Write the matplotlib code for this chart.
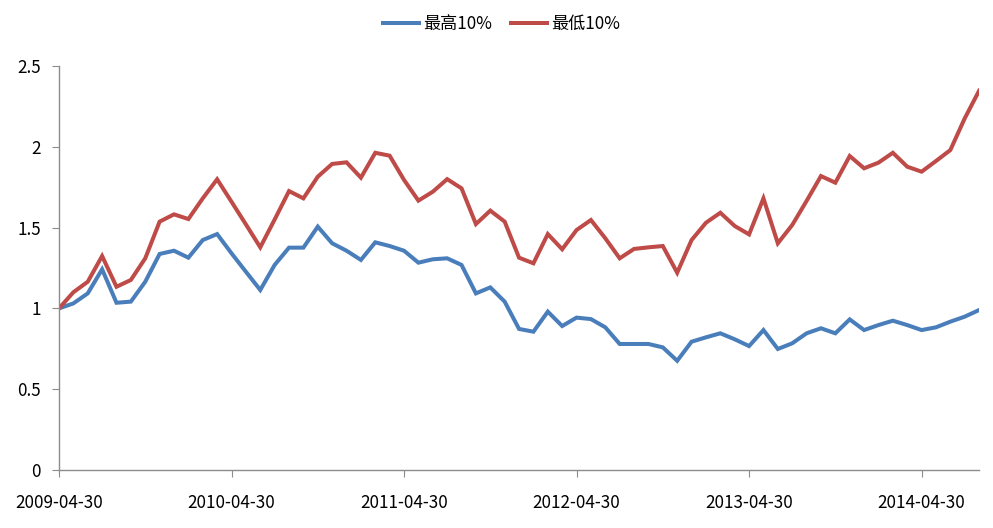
import matplotlib
matplotlib.use("Agg")
import matplotlib.pyplot as plt
import numpy as np

plt.rcParams['font.family'] = ['Noto Sans CJK SC', 'DejaVu Sans']

# monthly values, 2009-04 .. 2014-08
top10 = [1.0, 1.031, 1.093, 1.242, 1.035, 1.042, 1.165, 1.337, 1.357, 1.314,
         1.423, 1.46, 1.341, 1.227, 1.114, 1.269, 1.376, 1.376, 1.506, 1.403,
         1.357, 1.30, 1.409, 1.386, 1.357, 1.283, 1.304, 1.31, 1.269, 1.093,
         1.13, 1.042, 0.873, 0.856, 0.98, 0.891, 0.943, 0.934, 0.883, 0.78,
         0.78, 0.78, 0.759, 0.676, 0.794, 0.821, 0.846, 0.809, 0.767, 0.866,
         0.749, 0.784, 0.846, 0.877, 0.846, 0.932, 0.866, 0.897, 0.924, 0.897,
         0.866, 0.883, 0.918, 0.949, 0.99]
bottom10 = [1.0, 1.10, 1.165, 1.324, 1.134, 1.176, 1.31, 1.537, 1.582, 1.553,
            1.681, 1.799, 1.66, 1.52, 1.378, 1.55, 1.726, 1.681, 1.815, 1.894,
            1.904, 1.809, 1.963, 1.945, 1.795, 1.667, 1.722, 1.80, 1.743, 1.522,
            1.605, 1.537, 1.314, 1.279, 1.46, 1.366, 1.485, 1.547, 1.434, 1.31,
            1.368, 1.378, 1.386, 1.221, 1.423, 1.53, 1.592, 1.51, 1.458, 1.681,
            1.403, 1.516, 1.665, 1.819, 1.778, 1.943, 1.867, 1.902, 1.963, 1.877,
            1.846, 1.912, 1.98, 2.176, 2.347]
tick_labels = ["2009-04-30", "2010-04-30", "2011-04-30", "2012-04-30",
               "2013-04-30", "2014-04-30"]
series_names = ["最高10%", "最低10%"]

x = np.arange(len(top10))

fig = plt.figure(figsize=(9.93, 5.28), dpi=100)
ax = fig.add_axes([0.0594, 0.1098, 0.9266, 0.7652])

ax.plot(x, top10, color="#4A7EBB", lw=2.9, label=series_names[0], solid_joinstyle="miter")
ax.plot(x, bottom10, color="#BE4B48", lw=2.9, label=series_names[1], solid_joinstyle="miter")

ax.set_xlim(0, len(top10) - 1)
ax.set_ylim(0, 2.5)
ax.set_xticks(np.arange(0, len(top10), 12))
ax.set_xticklabels(tick_labels)
ax.set_yticks([0, 0.5, 1, 1.5, 2, 2.5])
ax.set_yticklabels(["0", "0.5", "1", "1.5", "2", "2.5"])

for s in ["top", "right"]:
    ax.spines[s].set_visible(False)
for s in ["left", "bottom"]:
    ax.spines[s].set_color("#8c8c8c")
    ax.spines[s].set_linewidth(1.0)
ax.tick_params(axis="both", colors="#8c8c8c", labelcolor="black", labelsize=12.3, length=5)
ax.tick_params(axis="x", pad=12)
ax.tick_params(axis="y", pad=8)

ax.legend(loc="upper center", bbox_to_anchor=(0.481, 1.165), ncol=2, frameon=False,
          fontsize=12.3, handlelength=2.1, columnspacing=1.1, handletextpad=0.25)

fig.savefig("out.png", dpi=100)
